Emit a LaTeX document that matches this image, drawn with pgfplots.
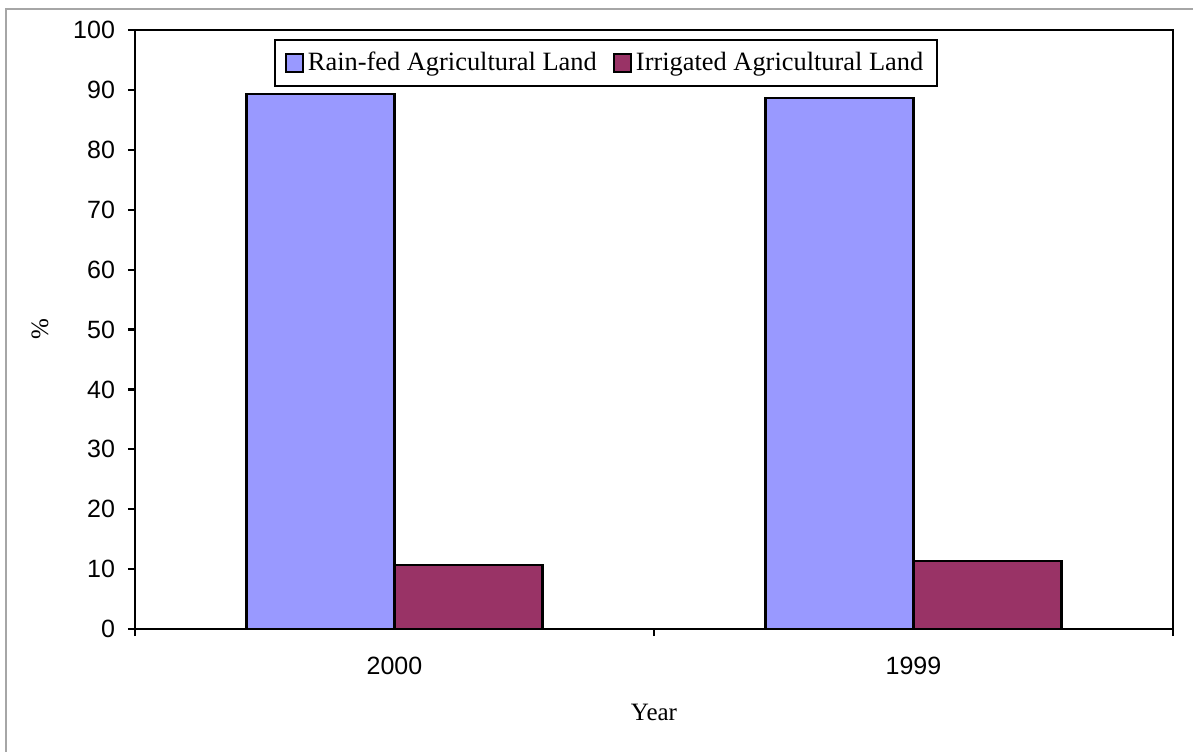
\documentclass[border=0pt]{standalone}
\usepackage{fontspec}
\setmainfont{Liberation Serif}
\newfontfamily\arial{Liberation Sans}
\usepackage{pgfplots}
\pgfplotsset{compat=1.18}

\definecolor{rainfed}{HTML}{9999FF}
\definecolor{irrigated}{HTML}{993366}

\begin{document}
\begin{tikzpicture}
  % page size and grey outer frame (only top and left edge visible)
  \useasboundingbox (-67.5pt,-61pt) rectangle (529pt,314.5pt);
  \draw[gray!70, line width=0.6pt] (-64.5pt,-62pt) -- (-64.5pt,310pt) -- (530pt,310pt);

\begin{axis}[
  at={(0,0)}, anchor=south west,
  scale only axis,
  width=519pt, height=299.5pt,
  ybar=0pt,
  bar width=74pt,
  xmin=-0.5, xmax=1.5,
  ymin=0, ymax=100,
  ytick={0,10,...,100},
  xtick={0,1},
  xticklabels={2000,1999},
  minor xtick={-0.5,0.5,1.5},
  major x tick style={draw=none},
  tick align=outside,
  xtick pos=bottom, ytick pos=left,
  major tick length=3.5pt, minor tick length=3.5pt,
  tick style={black, line width=1.1pt},
  axis line style={black, line width=1.2pt},
  ticklabel style={font=\arial\fontsize{12.5}{14}\selectfont},
  yticklabel style={xshift=-3pt},
  xticklabel style={yshift=-7pt},
  /pgf/number format/assume math mode=true,
  xlabel={Year}, ylabel={\%},
  label style={font=\fontsize{12.5}{14}\selectfont},
  xlabel style={at={(axis description cs:0.5,-0.14)}, anchor=center},
  ylabel style={at={(axis description cs:-0.0915,0.5)}, anchor=center},
  legend columns=2,
  legend style={at={(rel axis cs:0.4538,0.945)}, anchor=center,
    draw=black, line width=1.1pt, inner xsep=5pt, inner ysep=4pt,
    font=\fontsize{13.2}{15}\selectfont,
    /tikz/every even column/.append style={column sep=6pt}},
  legend image code/.code={\draw[#1, line width=1pt] (0pt,-4.3pt) rectangle (8.6pt,4.3pt);},
  every axis plot/.append style={draw=black, line width=1.1pt},
]
\addplot[fill=rainfed] coordinates {(0,89.3) (1,88.6)};
\addplot[fill=irrigated] coordinates {(0,10.7) (1,11.4)};
\legend{Rain-fed Agricultural Land, Irrigated Agricultural Land}
\end{axis}
\end{tikzpicture}
\end{document}
